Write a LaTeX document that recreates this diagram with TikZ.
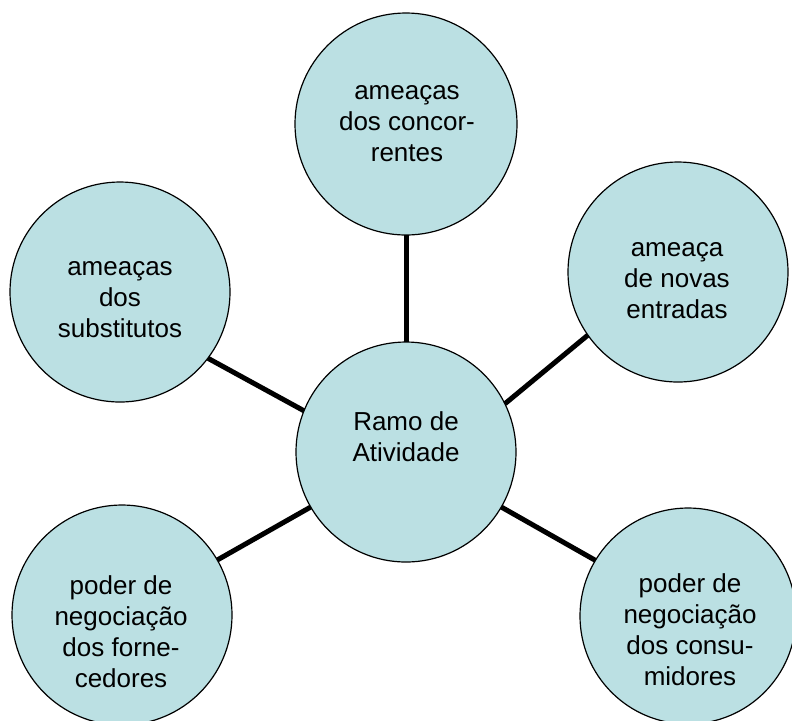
\documentclass[tikz,border=0pt]{standalone}
\usepackage{fontspec}
\setmainfont{Liberation Sans}
\definecolor{blobfill}{RGB}{187,224,227}
\begin{document}
\begin{tikzpicture}[x=0.5pt, y=-0.5pt,
    blob/.style={circle, draw, line width=0.6pt, fill=blobfill, minimum size=110pt, inner sep=0pt, outer sep=0pt},
    blobtext/.style={align=center, font=\fontsize{13}{15.5}\selectfont, inner sep=0pt},
    link/.style={line width=2.5pt}]
    \useasboundingbox (0,0) rectangle (792,720);
    \clip (0,0) rectangle (792,720);
    \node[blob] (cc) at (406,452) {};
    \node[blob, minimum size=111pt] (tc) at (406,124) {};
    \node[blob] (rt) at (678,272) {};
    \node[blob] (lt) at (120,292) {};
    \node[blob] (bl) at (122,615) {};
    \node[blob, minimum size=108pt] (br) at (688,616) {};
    \draw[link] (tc.-90) -- (cc.90);
    \draw[link] (lt.-37) -- (cc.158);
    \draw[link] (bl.30) -- (cc.210);
    \draw[link] (cc.26) -- (rt.215);
    \draw[link] (cc.-30) -- (br.149);
    \node[blobtext] (cctext) at (406,437) {Ramo de\\Atividade};
    \node[blobtext] (tctext) at (407,124) {ameaças\\dos concor-\\rentes};
    \node[blobtext] (rttext) at (677,281) {ameaça\\de novas\\entradas};
    \node[blobtext] (lttext) at (120,300) {ameaças\\dos\\substitutos};
    \node[blobtext] (bltext) at (121,632) {poder de\\negociação\\dos forne-\\cedores};
    \node[blobtext] (brtext) at (690,630) {poder de\\negociação\\dos consu-\\midores};
\end{tikzpicture}
\end{document}
